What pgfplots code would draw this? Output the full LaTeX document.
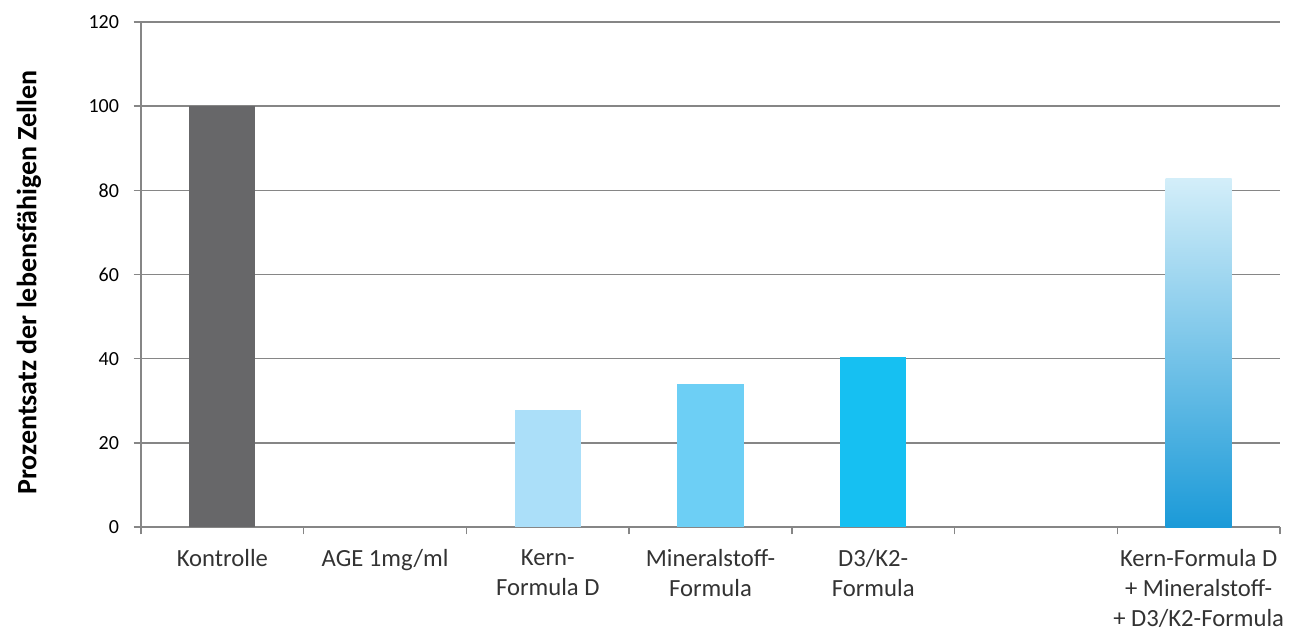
\documentclass[border=0pt]{standalone}
\usepackage{pgfplots}
\pgfplotsset{compat=1.18}
\usepackage{fontspec}
\setmainfont{Carlito}

\definecolor{axisgray}{HTML}{868686}
\definecolor{ctrlgray}{HTML}{676769}
\definecolor{kernblue}{HTML}{ABDFF9}
\definecolor{minblue}{HTML}{6DCFF5}
\definecolor{dkblue}{HTML}{16C0F2}
\definecolor{combtop}{HTML}{D3EEF9}
\definecolor{combbot}{HTML}{1B9AD8}

\begin{document}
\begin{tikzpicture}
\begin{axis}[
  scale only axis,
  width=854.25pt, height=378.75pt,
  ybar,
  xmin=-0.5, xmax=6.5,
  ymin=0, ymax=120,
  ytick={0,20,...,120},
  xtick={0,...,6},
  xticklabels={Kontrolle, AGE 1mg/ml, {Kern-\\Formula D}, {Mineralstoff-\\Formula}, {D3/K2-\\Formula}, {}, {Kern-Formula D\\+ Mineralstoff-\\+ D3/K2-Formula}},
  minor xtick={-0.5,0.5,...,6.5},
  major x tick style={draw=none},
  minor x tick style={axisgray, line width=1pt},
  minor tick length=5.5pt,
  major tick length=5.5pt,
  tick align=outside,
  y tick style={axisgray, line width=1pt},
  axis x line*=bottom,
  axis y line*=left,
  axis line style={axisgray, line width=1pt, -},
  ymajorgrids,
  grid style={axisgray, line width=1pt},
  /pgf/number format/assume math mode=true,
  ticklabel style={font=\fontsize{15}{18}\selectfont, text=black},
  yticklabel style={xshift=-7.5pt},
  xticklabel style={font=\fontsize{18.5}{22.5}\selectfont, align=center, text=black!80, yshift=-8pt},
  ylabel={\bfseries Prozentsatz der lebensfähigen Zellen},
  ylabel style={at={(axis description cs:0,0.5)}, anchor=center, yshift=84pt, xshift=-6pt, font=\fontsize{21}{25}\selectfont},
  bar width=0.406,
  every axis plot/.append style={bar shift=0pt, draw=none},
]
\addplot[fill=ctrlgray] coordinates {(0,100)};
\addplot[fill=kernblue] coordinates {(2,27.8)};
\addplot[fill=minblue] coordinates {(3,34.0)};
\addplot[fill=dkblue] coordinates {(4,40.4)};
\addplot[shade, top color=combtop, bottom color=combbot] coordinates {(6,82.7)};
\end{axis}
\pgfresetboundingbox
\path[use as bounding box] ([shift={(-105.75pt,-81pt)}]current axis.south west) rectangle ([shift={(12.75pt,16.5pt)}]current axis.north east);
\end{tikzpicture}
\end{document}
